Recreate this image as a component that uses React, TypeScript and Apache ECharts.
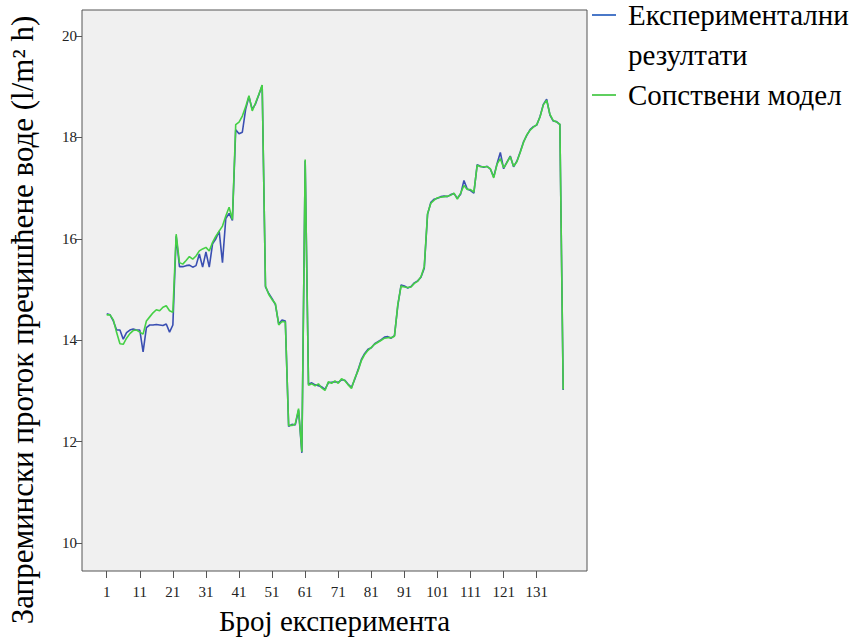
import React, { useEffect, useRef } from "react";
import * as echarts from "echarts";

const EXP_NAME = "Експериментални резултати";
const MODEL_NAME = "Сопствени модел";
const X_TITLE = "Број експеримента";
const Y_TITLE = "Запремински проток пречишћене воде (l/m² h)";

const xTickLabels = [1, 11, 21, 31, 41, 51, 61, 71, 81, 91, 101, 111, 121, 131];
const yTickLabels = [10, 12, 14, 16, 18, 20];

// Experiment numbers 1..139 (one per measurement)
const experimentalValues = [
  14.52, 14.5, 14.38, 14.2, 14.2, 14.02, 14.15, 14.2, 14.22, 14.2,
  14.2, 13.77, 14.25, 14.3, 14.3, 14.31, 14.3, 14.29, 14.32, 14.16,
  14.3, 16.05, 15.45, 15.45, 15.47, 15.48, 15.44, 15.47, 15.7, 15.44,
  15.74, 15.44, 15.9, 16.0, 16.15, 15.53, 16.4, 16.5, 16.36, 18.15,
  18.07, 18.1, 18.55, 18.8, 18.55, 18.66, 18.84, 19.02, 15.05, 14.92,
  14.82, 14.7, 14.32, 14.4, 14.38, 12.3, 12.34, 12.33, 12.62, 11.78,
  17.54, 13.13, 13.16, 13.12, 13.1, 13.08, 13.03, 13.16, 13.17, 13.18,
  13.17, 13.22, 13.21, 13.13, 13.07, 13.23, 13.42, 13.62, 13.74, 13.82,
  13.85, 13.93, 13.97, 14.01, 14.06, 14.07, 14.04, 14.09, 14.68, 15.09,
  15.07, 15.03, 15.06, 15.13, 15.17, 15.24, 15.42, 16.48, 16.72, 16.78,
  16.8, 16.83, 16.84, 16.83, 16.87, 16.89, 16.8, 16.88, 17.15, 16.98,
  16.95, 16.9, 17.46, 17.43, 17.41, 17.43, 17.37, 17.22, 17.48, 17.7,
  17.38, 17.51, 17.63, 17.42, 17.53, 17.71, 17.91, 18.04, 18.15, 18.21,
  18.24, 18.41, 18.65, 18.75, 18.44, 18.32, 18.31, 18.25, 13.02,
];

const modelValues = [
  14.5, 14.5, 14.4, 14.15, 13.93, 13.92, 14.04, 14.13, 14.19, 14.2,
  14.16, 14.12, 14.38, 14.46, 14.54, 14.6, 14.58, 14.65, 14.68, 14.58,
  14.55, 16.09, 15.53, 15.5, 15.57, 15.65, 15.6, 15.66, 15.76, 15.8,
  15.83, 15.76, 15.93, 16.05, 16.15, 16.25, 16.45, 16.62, 16.38, 18.25,
  18.3, 18.42, 18.6, 18.82, 18.52, 18.68, 18.85, 19.03, 15.07, 14.9,
  14.8, 14.72, 14.3, 14.37, 14.36, 12.32, 12.32, 12.35, 12.65, 11.8,
  17.56, 13.11, 13.14, 13.1, 13.14, 13.06, 13.01, 13.18, 13.15, 13.2,
  13.15, 13.24, 13.2, 13.12, 13.05, 13.25, 13.4, 13.6, 13.72, 13.8,
  13.86, 13.92, 13.96, 14.0, 14.04, 14.05, 14.05, 14.08, 14.7, 15.07,
  15.05, 15.04, 15.05, 15.12, 15.16, 15.25, 15.45, 16.5, 16.7, 16.76,
  16.81, 16.82, 16.83, 16.84, 16.86, 16.9, 16.78, 16.9, 17.05, 16.97,
  16.97, 16.92, 17.45, 17.42, 17.42, 17.42, 17.38, 17.2, 17.47, 17.58,
  17.4, 17.5, 17.62, 17.43, 17.52, 17.7, 17.9, 18.05, 18.14, 18.2,
  18.25, 18.4, 18.64, 18.73, 18.45, 18.33, 18.3, 18.26, 13.03,
];

const FONT = '"Liberation Serif", "Times New Roman", serif';

export default function App() {
  const ref = useRef<HTMLDivElement>(null);

  useEffect(() => {
    document.body.style.margin = "0";
    if (!ref.current) return;
    const chart = echarts.init(ref.current, undefined, { renderer: "svg" });

    const expData = experimentalValues.map((v, i) => [i + 1, v]);
    const modelData = modelValues.map((v, i) => [i + 1, v]);

    chart.setOption({
      animation: false,
      backgroundColor: "#ffffff",
      grid: {
        left: 82,
        right: 267,
        top: 10,
        bottom: 67,
        show: true,
        backgroundColor: "#f0f0f0",
        borderColor: "#555555",
        borderWidth: 1,
      },
      legend: {
        orient: "vertical",
        left: 592,
        top: -45,
        padding: 0,
        itemGap: 0,
        itemWidth: 24,
        itemHeight: 2,
        icon: "rect",
        formatter: (name: string) =>
          name === EXP_NAME ? "\n" + name.replace(" ", "\n") : name,
        textStyle: {
          fontFamily: FONT,
          fontSize: 29,
          color: "#000000",
          lineHeight: 40,
          padding: [0, 0, 0, 7],
        },
        data: [
          { name: EXP_NAME, itemStyle: { color: "#4a78c8" } },
          { name: MODEL_NAME, itemStyle: { color: "#5fcf5f" } },
        ],
      },
      xAxis: {
        type: "value",
        min: -6.47,
        max: 146.2,
        name: X_TITLE,
        nameLocation: "middle",
        nameGap: 35,
        nameTextStyle: { fontFamily: FONT, fontSize: 29, color: "#000000" },
        axisLine: { show: false, onZero: false },
        splitLine: { show: false },
        axisTick: {
          show: true,
          customValues: xTickLabels,
          length: 7,
          lineStyle: { color: "#555555" },
        },
        axisLabel: {
          customValues: xTickLabels,
          fontFamily: FONT,
          fontSize: 15,
          color: "#222222",
          margin: 13,
        },
      },
      yAxis: {
        type: "value",
        min: 9.45,
        max: 20.51,
        axisLine: { show: false, onZero: false },
        splitLine: { show: false },
        axisTick: {
          show: true,
          customValues: yTickLabels,
          length: 6,
          lineStyle: { color: "#555555" },
        },
        axisLabel: {
          customValues: yTickLabels,
          fontFamily: FONT,
          fontSize: 15,
          color: "#222222",
          margin: 5,
        },
      },
      graphic: [
        {
          type: "text",
          x: 22,
          y: 320,
          rotation: Math.PI / 2,
          style: {
            text: Y_TITLE,
            font: '31px "Liberation Serif", serif',
            fill: "#000000",
            align: "center",
            verticalAlign: "middle",
          },
        },
      ],
      series: [
        {
          name: EXP_NAME,
          type: "line",
          data: expData,
          symbol: "none",
          color: "#3a4fb2",
          lineStyle: { color: "#3a4fb2", width: 1.6 },
          z: 2,
        },
        {
          name: MODEL_NAME,
          type: "line",
          data: modelData,
          symbol: "none",
          color: "#45d045",
          lineStyle: { color: "#45d045", width: 1.6 },
          z: 3,
        },
      ],
    });

    return () => chart.dispose();
  }, []);

  return <div ref={ref} style={{ width: 854, height: 640 }} />;
}
